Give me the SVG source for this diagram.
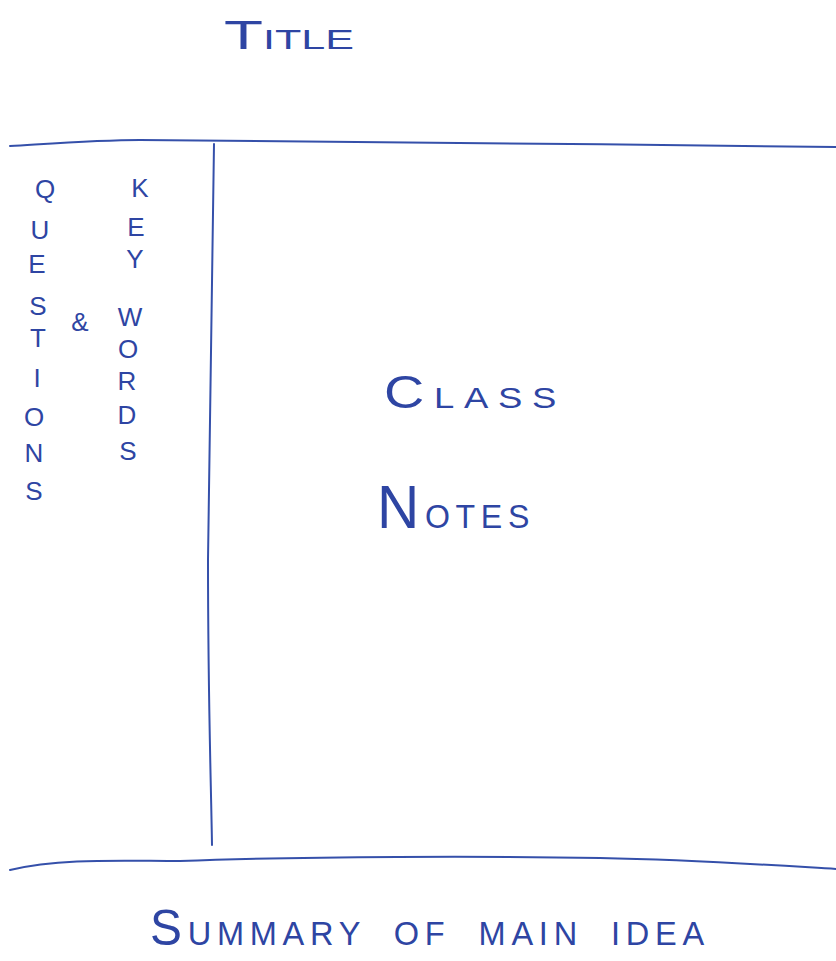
<svg xmlns="http://www.w3.org/2000/svg" width="836" height="961" viewBox="0 0 836 961">
<style>
.ink{fill:#2e45a3;font-family:"Liberation Sans",Arial,sans-serif;font-weight:normal}
.ln{fill:none;stroke:#3550aa;stroke-width:2;stroke-linecap:round}
.v{font-size:26px;text-anchor:middle}
</style>
<rect width="836" height="961" fill="#ffffff"/>
<g id="connectors">
<path class="ln" d="M10,146 C60,143 100,140 140,140 C300,141 600,144 836,147"/>
<path class="ln" d="M214,144 C213,300 209,450 208,560 C208,700 211,780 212,845"/>
<path class="ln" d="M10,870 C60,858 120,861 180,861 C300,856 500,856 600,858 C700,860 770,865 836,869"/>
</g>
<g id="title">
<text class="ink" x="224" y="49" textLength="130" lengthAdjust="spacingAndGlyphs"><tspan font-size="40">T</tspan><tspan font-size="27">ITLE</tspan></text>
</g>
<g id="questions">
<text class="ink v" x="45" y="198">Q</text>
<text class="ink v" x="40" y="239">U</text>
<text class="ink v" x="37" y="273">E</text>
<text class="ink v" x="38" y="315">S</text>
<text class="ink v" x="38" y="347">T</text>
<text class="ink v" x="37" y="387">I</text>
<text class="ink v" x="34" y="426">O</text>
<text class="ink v" x="34" y="462">N</text>
<text class="ink v" x="34" y="500">S</text>
</g>
<g id="and">
<text class="ink v" x="80" y="331">&amp;</text>
</g>
<g id="keywords">
<text class="ink v" x="140" y="197">K</text>
<text class="ink v" x="136" y="236">E</text>
<text class="ink v" x="135" y="268">Y</text>
<text class="ink v" x="130" y="326">W</text>
<text class="ink v" x="128" y="358">O</text>
<text class="ink v" x="127" y="390">R</text>
<text class="ink v" x="127" y="424">D</text>
<text class="ink v" x="128" y="460">S</text>
</g>
<g id="class-notes">
<text class="ink" x="384" y="408" textLength="182" lengthAdjust="spacingAndGlyphs" letter-spacing="8"><tspan font-size="46">C</tspan><tspan font-size="30">LASS</tspan></text>
<text class="ink" x="377" y="528" textLength="158" lengthAdjust="spacingAndGlyphs" letter-spacing="6"><tspan font-size="62">N</tspan><tspan font-size="34">OTES</tspan></text>
</g>
<g id="summary">
<text class="ink" x="150" y="945" textLength="560" lengthAdjust="spacingAndGlyphs" letter-spacing="6" word-spacing="14"><tspan font-size="50">S</tspan><tspan font-size="34">UMMARY OF MAIN  IDEA</tspan></text>
</g>
</svg>
